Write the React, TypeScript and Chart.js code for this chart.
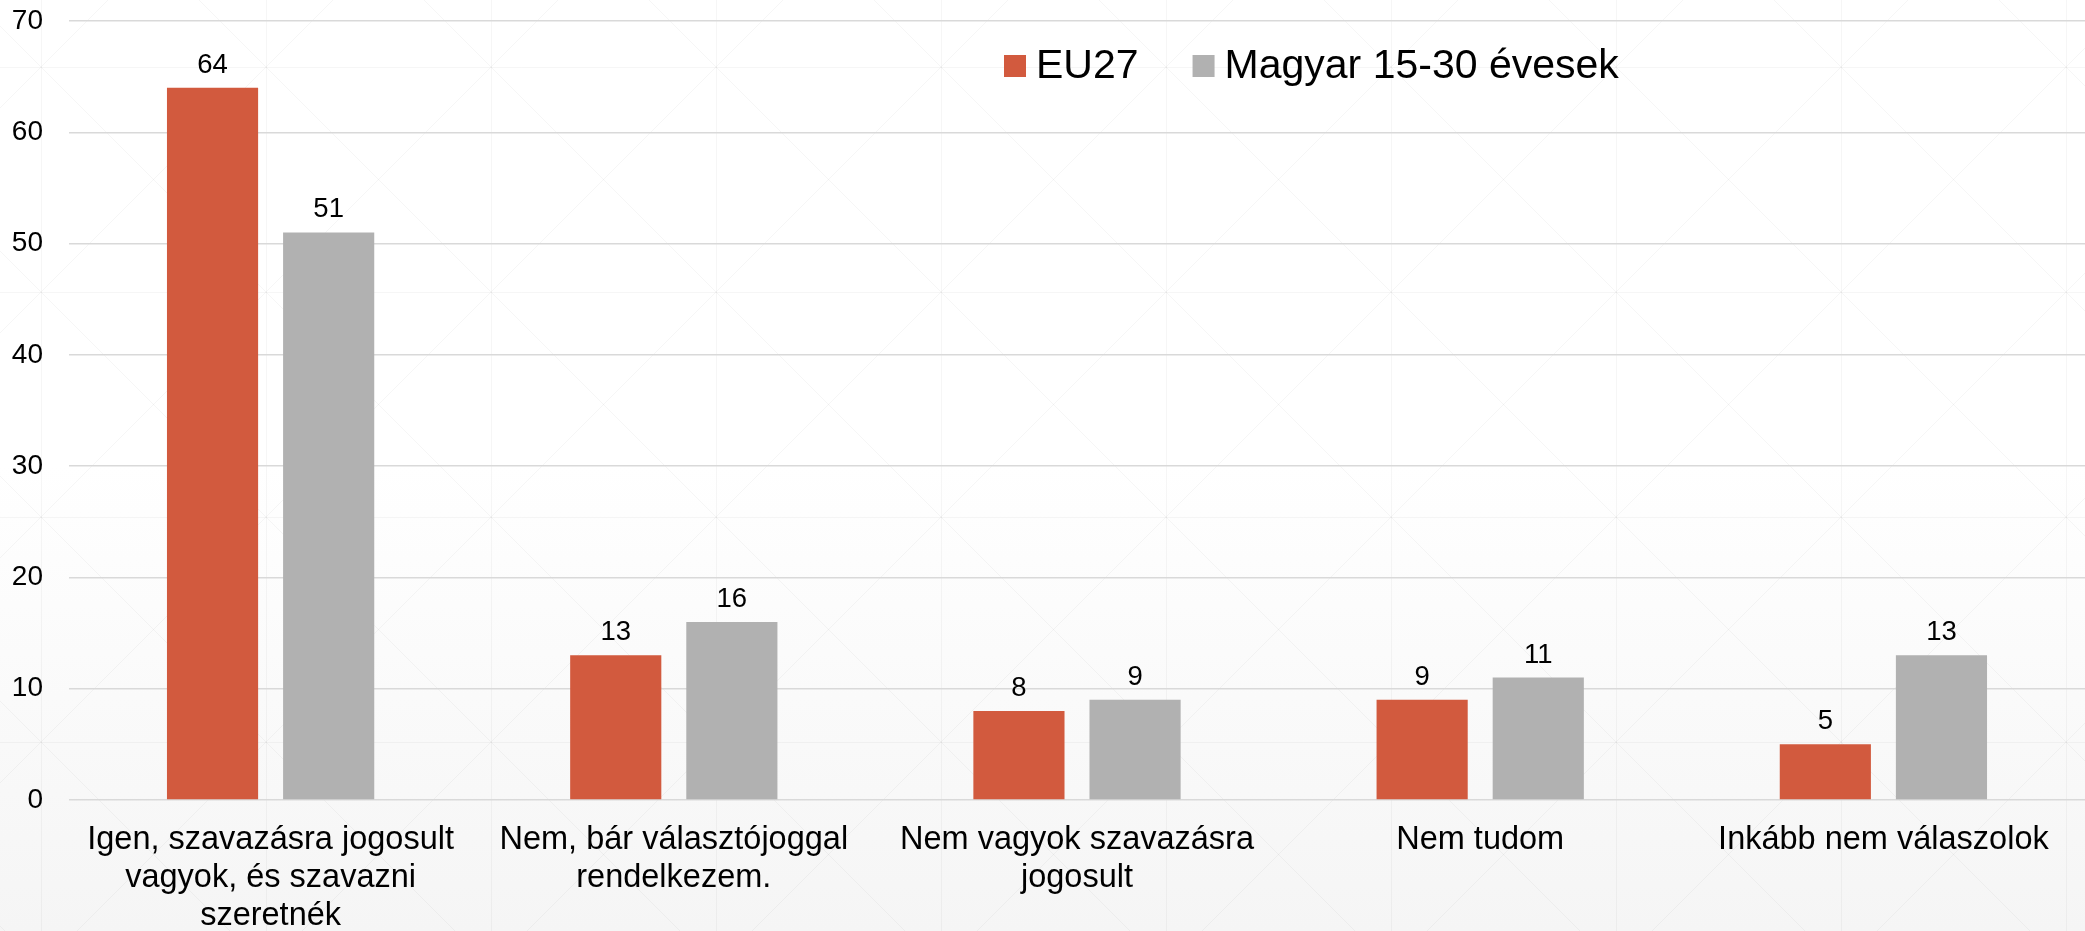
import React, { useEffect, useRef } from "react";
import { Chart, registerables } from "chart.js";

Chart.register(...registerables);

const categories: (string | string[])[] = [
  ["Igen, szavazásra jogosult", "vagyok, és szavazni", "szeretnék"],
  ["Nem, bár választójoggal", "rendelkezem."],
  ["Nem vagyok szavazásra", "jogosult"],
  "Nem tudom",
  "Inkább nem válaszolok",
];
const seriesNames = ["EU27", "Magyar 15-30 évesek"];
const eu27 = [64, 13, 8, 9, 5];
const magyar = [51, 16, 9, 11, 13];
const yTicks = [0, 10, 20, 30, 40, 50, 60, 70];

const RED = "#D25A3E";
const GRAY = "#B1B1B1";
const FONT = "'Liberation Sans', Arial, sans-serif";

const backgroundPlugin = {
  id: "bgPattern",
  beforeDraw(chart: any) {
    const { ctx, width, height } = chart;
    ctx.save();
    const g = ctx.createLinearGradient(0, 0, 0, height);
    g.addColorStop(0, "#ffffff");
    g.addColorStop(0.5, "#ffffff");
    g.addColorStop(1, "#f5f5f5");
    ctx.fillStyle = g;
    ctx.fillRect(0, 0, width, height);
    const cell = 225;
    const x0 = 41;
    const y0 = 67;
    ctx.strokeStyle = "rgba(0,0,0,0.035)";
    ctx.lineWidth = 1;
    ctx.beginPath();
    for (let x = x0; x <= width; x += cell) {
      ctx.moveTo(x + 0.5, 0);
      ctx.lineTo(x + 0.5, height);
    }
    for (let y = y0; y <= height; y += cell) {
      ctx.moveTo(0, y + 0.5);
      ctx.lineTo(width, y + 0.5);
    }
    for (let k = -20; k <= 20; k++) {
      const bx = x0 + k * cell;
      ctx.moveTo(bx - y0 - cell * 5, -cell * 5);
      ctx.lineTo(bx - y0 + cell * 10, cell * 10);
      ctx.moveTo(bx + y0 + cell * 5, -cell * 5);
      ctx.lineTo(bx + y0 - cell * 10, cell * 10);
    }
    ctx.stroke();
    ctx.restore();
  },
};

const legendPlugin = {
  id: "floatLegend",
  afterDraw(chart: any) {
    const { ctx } = chart;
    ctx.save();
    ctx.font = `41px ${FONT}`;
    ctx.textBaseline = "alphabetic";
    ctx.textAlign = "left";
    let x = 1004;
    const baseline = 78;
    chart.data.datasets.forEach((ds: any) => {
      ctx.fillStyle = ds.backgroundColor;
      ctx.fillRect(x, 55, 22, 22);
      ctx.fillStyle = "#000";
      ctx.fillText(ds.label, x + 32, baseline);
      x += 32 + ctx.measureText(ds.label).width + 54;
    });
    ctx.restore();
  },
};

const valueLabelPlugin = {
  id: "valueLabels",
  afterDatasetsDraw(chart: any) {
    const { ctx } = chart;
    ctx.save();
    ctx.font = `27.5px ${FONT}`;
    ctx.fillStyle = "#000";
    ctx.textAlign = "center";
    ctx.textBaseline = "alphabetic";
    chart.data.datasets.forEach((ds: any, i: number) => {
      const meta = chart.getDatasetMeta(i);
      meta.data.forEach((bar: any, j: number) => {
        ctx.fillText(String(ds.data[j]), bar.x, bar.y - 15);
      });
    });
    ctx.restore();
  },
};

export default function App() {
  const ref = useRef<HTMLCanvasElement>(null);
  useEffect(() => {
    document.body.style.margin = "0";
    const canvas = ref.current!;
    const chart = new Chart(canvas, {
      type: "bar",
      data: {
        labels: categories,
        datasets: [
          {
            label: seriesNames[0],
            data: eu27,
            backgroundColor: RED,
            categoryPercentage: 0.576,
            barPercentage: 0.785,
          },
          {
            label: seriesNames[1],
            data: magyar,
            backgroundColor: GRAY,
            categoryPercentage: 0.576,
            barPercentage: 0.785,
          },
        ],
      },
      options: {
        animation: false,
        responsive: false,
        devicePixelRatio: 1,
        layout: { padding: { top: 21, right: 0, left: 0, bottom: 0 } },
        plugins: {
          legend: { display: false },
          tooltip: { enabled: false },
        },
        scales: {
          y: {
            min: 0,
            max: 70,
            afterBuildTicks(scale: any) {
              scale.ticks = yTicks.map((v) => ({ value: v }));
            },
            afterFit(scale: any) {
              scale.width = 69;
              scale.paddingTop = 0;
              scale.paddingBottom = 0;
            },
            ticks: {
              font: { size: 28, family: FONT },
              color: "#000",
              padding: 26,
            },
            grid: { color: "#d9d9d9", lineWidth: 1.5, drawTicks: false },
            border: { display: false },
          },
          x: {
            afterFit(scale: any) {
              scale.height = 131;
            },
            ticks: {
              font: { size: 32.5, family: FONT, lineHeight: 1.17 },
              color: "#000",
              padding: 13,
              maxRotation: 0,
              autoSkip: false,
            },
            grid: { display: false },
            border: { display: false },
          },
        },
      },
      plugins: [backgroundPlugin, valueLabelPlugin, legendPlugin],
    });
    return () => chart.destroy();
  }, []);
  return (
    <canvas
      ref={ref}
      width={2085}
      height={931}
      style={{ display: "block", width: 2085, height: 931 }}
    />
  );
}
